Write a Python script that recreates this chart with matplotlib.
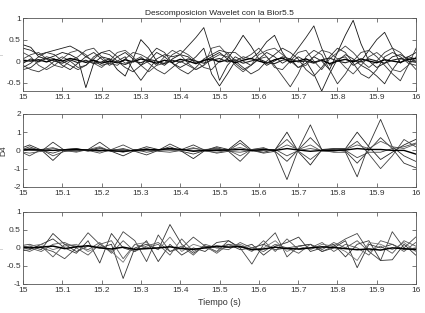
import matplotlib
matplotlib.use('Agg')
import matplotlib.pyplot as plt
import numpy as np

plt.rcParams['font.family'] = ['Liberation Sans', 'DejaVu Sans']

# time grids (s)
t_a = np.linspace(15.0, 16.0, 51)
t_d = np.linspace(14.987, 15.999, 35)

# top panel (approximation-like signals)
top_1 = [0.38, 0.32, 0.1, 0.05, 0.12, 0.2, 0.15, 0.05, -0.62, -0.05, 0.1, 0.05, -0.2, -0.35, 0.05, 0.5, 0.3,
         0.0, -0.1, 0.05, 0.15, 0.1, -0.05, 0.0, 0.1, 0.2, 0.05, 0.3, 0.6, 0.35, 0.05, -0.1, 0.0, 0.1, 0.05,
         -0.15, -0.05, 0.1, 0.0, -0.2, 0.2, 0.6, 0.95, 0.4, 0.0, -0.15, -0.05, 0.1, 0.15, 0.05, 0.0]
top_2 = [-0.2, -0.15, 0.0, 0.1, 0.05, -0.1, -0.2, -0.05, 0.1, 0.2, 0.05, -0.1, 0.0, 0.1, -0.2, -0.45, -0.2,
         0.05, 0.15, 0.1, 0.15, 0.35, 0.55, 0.78, 0.2, -0.45, -0.1, 0.1, 0.0, -0.1, 0.05, 0.2, 0.1, -0.05, 0.05,
         0.3, 0.55, 0.82, 0.3, -0.1, 0.0, 0.15, 0.05, -0.1, -0.2, -0.35, -0.53, -0.2, 0.05, 0.1, 0.05]
top_3 = [0.3, 0.25, 0.15, 0.2, 0.25, 0.3, 0.35, 0.25, 0.1, 0.0, -0.1, -0.05, 0.1, 0.2, 0.05, -0.1, 0.0,
         0.2, 0.1, -0.05, -0.15, -0.05, 0.1, 0.3, -0.3, -0.58, -0.3, 0.0, 0.1, 0.05, 0.2, 0.45, 0.6, 0.2, -0.05,
         0.1, 0.0, -0.3, -0.7, -0.3, 0.05, 0.1, -0.1, 0.0, 0.25, 0.5, 0.67, 0.3, -0.05, 0.1, 0.2]
top_4 = [-0.1, -0.2, -0.25, -0.15, 0.0, 0.1, 0.0, -0.15, -0.1, 0.05, 0.2, 0.25, 0.1, -0.05, 0.0, 0.1, -0.05,
         -0.2, -0.3, -0.15, 0.0, -0.1, -0.2, -0.1, 0.05, 0.15, 0.1, -0.05, -0.2, -0.1, 0.05, 0.1, -0.1, -0.35,
         -0.6, -0.3, 0.1, 0.25, 0.15, -0.2, -0.53, -0.3, 0.0, 0.2, 0.25, 0.1, -0.1, -0.3, -0.46, -0.1, 0.3]
top_5 = [0.2, 0.1, -0.1, -0.2, -0.1, 0.05, 0.2, 0.25, 0.15, -0.05, -0.15, 0.0, 0.2, 0.25, 0.1, -0.1, -0.25,
         -0.1, 0.1, 0.25, 0.15, -0.05, -0.2, -0.1, 0.3, 0.35, 0.15, -0.1, -0.25, -0.1, 0.15, 0.25, 0.3, 0.15,
         0.0, -0.15, -0.1, 0.1, 0.25, 0.2, 0.05, -0.15, -0.3, -0.1, 0.1, 0.2, 0.05, -0.2, -0.25, -0.1, 0.1]
top_6 = [-0.15, -0.05, 0.1, 0.2, 0.15, 0.0, -0.1, -0.2, -0.1, 0.1, 0.2, 0.15, 0.0, -0.15, -0.25, -0.1, 0.1,
         0.3, 0.2, -0.05, -0.2, -0.3, -0.15, 0.05, 0.15, 0.25, 0.2, 0.0, -0.15, -0.3, -0.2, 0.0, 0.15, 0.3,
         0.2, 0.05, -0.2, -0.35, -0.15, 0.1, 0.3, 0.2, -0.05, -0.3, -0.4, -0.2, 0.1, 0.2, 0.1, -0.05, -0.1]
top_7 = [0.05, 0.15, 0.2, 0.05, -0.1, -0.15, 0.0, 0.1, 0.25, 0.3, 0.1, -0.05, -0.1, 0.05, 0.2, 0.15, 0.05,
         -0.1, -0.05, 0.15, 0.25, 0.15, 0.0, -0.15, -0.2, 0.0, 0.2, 0.2, 0.05, 0.15, 0.3, 0.1, -0.15, -0.2,
         0.0, 0.2, 0.25, 0.0, -0.2, 0.05, 0.2, 0.35, 0.2, 0.0, -0.15, 0.0, 0.2, 0.3, 0.2, 0.0, -0.2]
top_8 = [0.02, 0.0, 0.03, -0.02, 0.04, 0.0, 0.06, 0.02, -0.03, 0.02, -0.05, 0.0, -0.04, 0.03, -0.02, 0.05,
         0.0, -0.05, 0.02, -0.03, 0.04, 0.0, -0.06, 0.02, 0.05, -0.02, 0.03, -0.04, 0.02, 0.06, 0.0, -0.05,
         0.03, 0.07, -0.02, 0.0, 0.05, -0.03, 0.02, -0.06, 0.0, 0.04, -0.02, 0.05, 0.0, -0.04, 0.03, 0.0,
         -0.03, 0.04, 0.06]
top_9 = [-0.05, 0.05, -0.02, 0.06, 0.0, -0.05, 0.03, -0.04, 0.02, -0.06, -0.02, 0.05, -0.03, -0.08, 0.0,
         -0.04, 0.04, 0.0, -0.06, 0.02, -0.03, 0.05, 0.0, -0.05, 0.02, 0.06, -0.02, 0.03, -0.05, 0.0, 0.05,
         -0.03, -0.06, 0.02, 0.05, -0.02, 0.0, -0.05, 0.03, 0.07, 0.0, -0.04, 0.02, -0.02, 0.05, 0.0, -0.05,
         0.02, 0.06, 0.0, -0.03]

# middle panel (D4)
d4_a = [0.05, 0.3, 0.02, -0.55, 0.05, 0.1, 0.0, 0.15, -0.05, -0.3, 0.0, 0.2, 0.05, 0.1, -0.05, -0.45, 0.0,
        0.2, 0.05, 0.55, 0.0, -0.1, 0.05, 1.0, -0.1, -0.8, 0.05, 0.1, 0.1, 1.0, 0.2, -0.5, -0.1, 0.3, 0.6]
d4_b = [-0.05, 0.2, -0.05, 0.45, 0.0, -0.05, 0.05, 0.45, 0.0, 0.1, -0.05, -0.25, 0.0, 0.35, 0.05, 0.3, 0.0,
        -0.15, -0.05, -0.6, 0.05, 0.15, -0.1, -1.6, 0.1, 1.4, 0.0, -0.1, -0.1, -1.45, 0.3, 1.7, 0.2, -0.3, -0.6]
d4_c = [0.0, 0.1, 0.05, 0.15, -0.05, 0.05, 0.0, -0.05, 0.05, 0.3, 0.0, 0.1, -0.05, -0.1, 0.0, 0.1, 0.05,
        0.1, 0.0, 0.4, -0.05, 0.05, 0.05, 0.6, -0.05, -0.5, 0.0, 0.0, 0.05, 0.5, -0.2, -1.0, -0.3, 0.6, 0.2]
d4_d = [0.05, 0.0, 0.0, -0.15, 0.05, 0.1, -0.05, 0.1, 0.0, -0.1, 0.05, -0.1, 0.0, 0.2, -0.05, -0.2, 0.0,
        0.05, 0.05, 0.15, 0.0, -0.15, -0.05, -0.6, 0.05, 0.7, 0.05, 0.05, -0.05, -0.7, 0.0, 0.7, 0.1, -0.7, -0.95]
d4_e = [-0.05, -0.15, -0.05, 0.1, 0.0, -0.1, 0.05, 0.2, -0.05, 0.0, 0.0, 0.05, 0.05, 0.0, 0.0, 0.15, -0.05,
        -0.1, 0.0, -0.3, 0.05, 0.1, 0.0, 0.3, 0.05, 0.3, -0.05, -0.05, 0.05, 0.3, 0.1, 0.5, 0.2, 0.1, 0.35]
d4_f = [0.0, -0.3, 0.05, -0.3, -0.05, 0.0, 0.0, -0.15, 0.05, 0.05, -0.05, 0.0, 0.0, 0.05, 0.05, 0.0, 0.0,
        0.15, -0.05, -0.1, 0.0, 0.0, 0.05, -0.3, 0.0, 0.1, 0.0, 0.1, 0.0, -0.4, -0.1, -0.1, 0.1, 0.2, 0.4]
d4_g = [0.0, 0.05, 0.02, 0.0, 0.03, 0.05, 0.02, 0.0, -0.02, -0.05, 0.0, 0.05, 0.03, 0.1, 0.05, -0.05, 0.0,
        0.0, 0.02, 0.05, 0.0, 0.05, 0.0, 0.1, 0.02, -0.05, 0.0, 0.0, 0.02, 0.1, 0.05, 0.05, 0.0, 0.0, -0.2]

# bottom panel (D3)
d3_a = [0.0, 0.05, -0.05, 0.4, 0.1, -0.1, 0.05, 0.0, 0.1, -0.85, 0.0, 0.1, -0.05, 0.65, 0.1, -0.15, 0.05,
        0.0, 0.1, -0.05, 0.0, 0.1, -0.05, 0.0, 0.05, 0.1, -0.1, 0.0, 0.2, -0.55, 0.1, 0.0, 0.1, -0.05, 0.0]
d3_b = [0.05, 0.1, 0.0, -0.1, -0.3, 0.0, 0.42, 0.1, -0.1, 0.45, 0.2, -0.38, 0.36, -0.1, 0.0, 0.3, 0.05,
        -0.1, 0.2, 0.0, -0.45, 0.1, 0.42, -0.25, 0.05, 0.1, -0.1, 0.05, 0.25, 0.4, -0.1, -0.35, 0.45, 0.0, 0.3]
d3_c = [-0.1, -0.05, 0.1, 0.25, 0.0, -0.15, 0.2, -0.42, 0.4, 0.0, -0.1, 0.2, -0.38, 0.1, -0.2, 0.0, -0.1,
        0.15, 0.2, 0.0, 0.1, -0.2, 0.05, 0.15, 0.3, -0.1, 0.0, 0.1, -0.25, 0.1, 0.2, -0.35, -0.33, 0.1, -0.2]
d3_d = [0.1, 0.0, -0.1, 0.1, 0.15, 0.0, -0.2, 0.1, 0.2, -0.3, 0.1, 0.0, 0.1, -0.2, 0.25, -0.1, 0.05,
        -0.15, 0.1, 0.05, -0.1, 0.2, -0.1, 0.25, -0.05, 0.0, 0.15, -0.1, 0.1, 0.0, -0.2, 0.2, 0.1, -0.1, 0.15]
d3_e = [-0.05, 0.05, 0.1, -0.05, 0.05, 0.1, -0.1, 0.05, -0.1, -0.4, 0.1, 0.15, -0.05, 0.3, -0.1, 0.1, 0.0,
        -0.1, 0.05, 0.1, -0.05, 0.0, 0.2, -0.1, 0.05, -0.05, 0.1, 0.05, -0.1, -0.35, 0.15, 0.1, -0.05, 0.15, -0.1]
d3_f = [0.0, -0.1, 0.05, -0.25, 0.1, 0.05, -0.05, 0.15, -0.15, 0.2, -0.1, 0.05, 0.15, -0.1, 0.05, -0.2, 0.1,
        0.0, -0.05, 0.15, 0.0, -0.1, 0.1, 0.0, -0.15, 0.1, -0.05, 0.15, 0.0, 0.2, -0.1, 0.05, -0.15, 0.2, 0.05]
d3_g = [0.03, 0.0, 0.02, 0.05, -0.02, 0.03, 0.06, 0.0, -0.03, 0.02, -0.04, -0.02, 0.0, 0.03, -0.02, -0.04,
        0.0, 0.05, 0.02, 0.04, -0.05, -0.03, 0.02, -0.02, -0.03, 0.0, 0.03, 0.01, -0.02, -0.05, -0.03, -0.06,
        0.0, -0.02, -0.05]

xticks = [15, 15.1, 15.2, 15.3, 15.4, 15.5, 15.6, 15.7, 15.8, 15.9, 16]
xtick_labels = ['15', '15.1', '15.2', '15.3', '15.4', '15.5', '15.6', '15.7', '15.8', '15.9', '16']

fig = plt.figure(figsize=(4.25, 3.13), dpi=100)
ax1 = fig.add_axes([0.054, 0.709, 0.925, 0.233])
ax2 = fig.add_axes([0.054, 0.403, 0.925, 0.233])
ax3 = fig.add_axes([0.054, 0.093, 0.925, 0.230])


def style(ax, ylim, yticks, ylabels):
    ax.set_xlim(15, 16)
    ax.set_ylim(*ylim)
    ax.set_xticks(xticks)
    ax.set_xticklabels(xtick_labels)
    ax.set_yticks(yticks)
    ax.set_yticklabels(ylabels)
    ax.tick_params(direction='in', length=3, width=0.5, top=True, right=True,
                   labelsize=6, labelcolor='#333333', pad=1.5, colors='#444444')
    ax.tick_params(axis='x', pad=2)
    for s in ax.spines.values():
        s.set_linewidth(0.6)
        s.set_color('#555555')


for y, c in zip([top_1, top_2, top_3, top_4, top_5, top_6, top_7],
                ['#111111', '#222222', '#1a1a1a', '#333333', '#444444', '#2a2a2a', '#3a3a3a']):
    ax1.plot(t_a, y, color=c, lw=0.6)
ax1.plot(t_a, top_8, color='black', lw=1.0)
ax1.plot(t_a, top_9, color='#222222', lw=0.8)
style(ax1, (-0.7, 1), [-0.5, 0, 0.5, 1], ['-0.5', '0', '0.5', '1'])
ax1.set_title('Descomposicion Wavelet con la Bior5.5', fontsize=6, color='#222222', pad=2)
ax1.set_ylabel('i', fontsize=4, color='#aaaaaa', labelpad=1)

for y, c in zip([d4_a, d4_b, d4_c, d4_d, d4_e, d4_f],
                ['#222222', '#333333', '#444444', '#333333', '#555555', '#444444']):
    ax2.plot(t_d, y, color=c, lw=0.6)
ax2.plot(t_d, d4_g, color='black', lw=1.0)
style(ax2, (-2, 2), [-2, -1, 0, 1, 2], ['-2', '-1', '0', '1', '2'])
ax2.set_ylabel('D4', fontsize=6, color='#333333', labelpad=4)

for y, c in zip([d3_a, d3_b, d3_c, d3_d, d3_e, d3_f],
                ['#333333', '#444444', '#333333', '#555555', '#777777', '#555555']):
    ax3.plot(t_d, y, color=c, lw=0.6)
ax3.plot(t_d, d3_g, color='black', lw=1.1)
style(ax3, (-1, 1), [-1, -0.5, 0, 0.5, 1], ['-1', '-0.5', '0', '0.5', '1'])
ax3.set_ylabel('i', fontsize=4, color='#aaaaaa', labelpad=1)
ax3.set_xlabel('Tiempo (s)', fontsize=6.5, color='#333333', labelpad=3)

fig.savefig('out.png', dpi=100, facecolor='white')
